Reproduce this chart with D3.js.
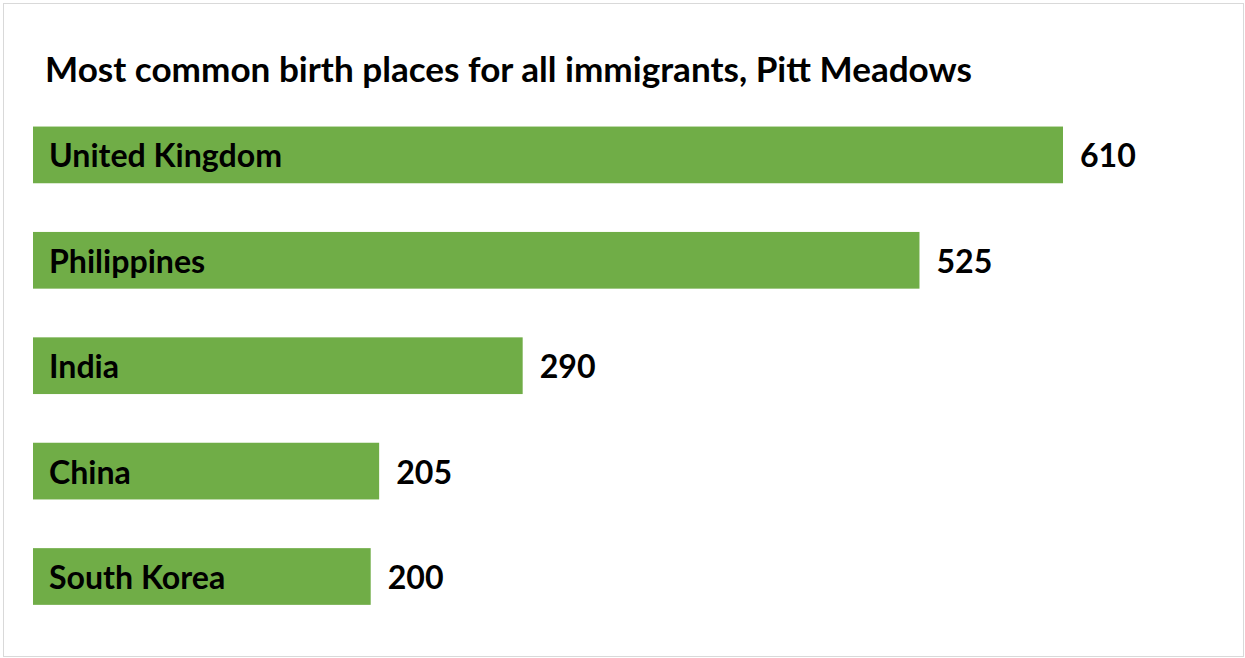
<!DOCTYPE html>
<html>
<head>
<meta charset="utf-8">
<script src="https://cdn.jsdelivr.net/npm/d3@7"></script>
<style>
  html, body { margin: 0; padding: 0; background: #fff; }
  svg { display: block; }
  text { font-family: Lato, "Open Sans", sans-serif; font-weight: 700; fill: #000; }
</style>
</head>
<body>
<svg id="chart" width="1245" height="658"></svg>
<script>
// Birth places and counts of immigrants
const categories = ["United Kingdom", "Philippines", "India", "China", "South Korea"];
const values = [610, 525, 290, 205, 200];
const title = "Most common birth places for all immigrants, Pitt Meadows";

const W = 1245, H = 658;
const svg = d3.select("#chart");

// chart frame
svg.append("rect")
  .attr("x", 3.5).attr("y", 3.5)
  .attr("width", W - 5).attr("height", H - 5)
  .attr("fill", "#fff")
  .attr("stroke", "#d9d9d9")
  .attr("stroke-width", 1);

const x = d3.scaleLinear().domain([0, 610]).range([33, 1063]);
const y = d3.scaleBand()
  .domain(categories)
  .range([102.2, 629.2])
  .paddingInner(0.462)
  .paddingOuter(0.231);

const data = categories.map((c, i) => ({ name: c, value: values[i] }));

// title, sized to span the top of the chart
const t = svg.append("text")
  .attr("x", 45).attr("y", 82)
  .style("font-size", "30px")
  .text(title);
const tw = t.node().getComputedTextLength();
const titleSize = 30 * 927 / tw;
t.style("font-size", titleSize + "px");

// bars
svg.selectAll("rect.bar")
  .data(data)
  .join("rect")
  .attr("class", "bar")
  .attr("x", x(0))
  .attr("y", d => y(d.name))
  .attr("width", d => x(d.value) - x(0))
  .attr("height", y.bandwidth())
  .attr("fill", "#70ad47");

// category names inside bars
const labelSize = titleSize * 0.915;
svg.selectAll("text.cat")
  .data(data)
  .join("text")
  .attr("class", "cat")
  .attr("x", 49)
  .attr("y", d => y(d.name) + y.bandwidth() / 2 + 12.5)
  .style("font-size", labelSize + "px")
  .text(d => d.name);

// value labels after bars
svg.selectAll("text.val")
  .data(data)
  .join("text")
  .attr("class", "val")
  .attr("x", d => x(d.value) + 17)
  .attr("y", d => y(d.name) + y.bandwidth() / 2 + 12.5)
  .style("font-size", labelSize + "px")
  .text(d => d.value);
</script>
</body>
</html>
